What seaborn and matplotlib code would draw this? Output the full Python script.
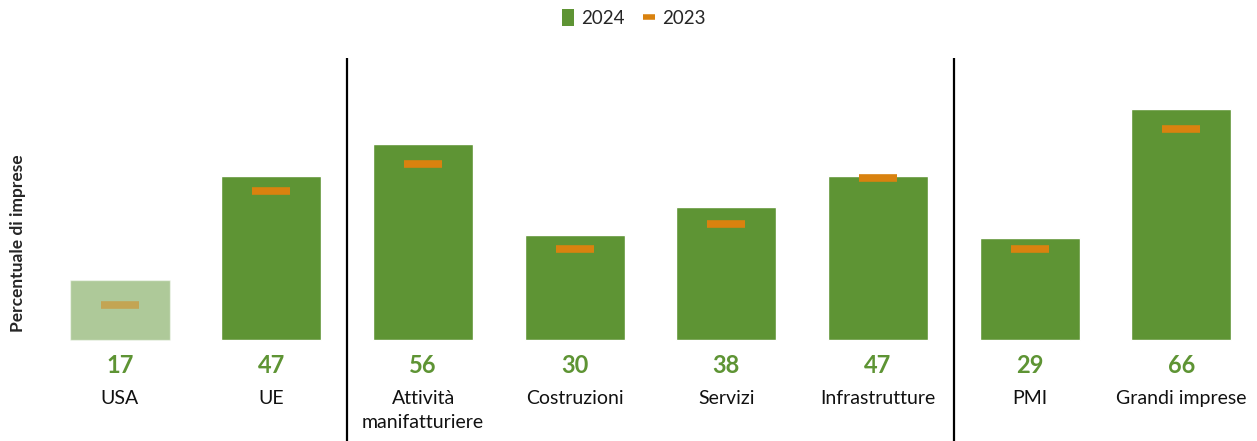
import matplotlib
matplotlib.use("Agg")
import matplotlib.pyplot as plt
import seaborn as sns
import pandas as pd
from matplotlib.patches import Patch
from matplotlib.lines import Line2D

sns.set_style("white")
plt.rcParams['font.family'] = ['Lato', 'DejaVu Sans']

# Data
categories = ["USA", "UE", "Attività\nmanifatturiere", "Costruzioni", "Servizi",
              "Infrastrutture", "PMI", "Grandi imprese"]
values_2024 = [17, 47, 56, 30, 38, 47, 29, 66]
values_2023 = [10, 42.5, 50.3, 26, 33, 46.3, 26, 60.3]

green = "#5E9434"
orange = "#D9820F"

df = pd.DataFrame({"cat": categories, "v2024": values_2024, "v2023": values_2023})

fig = plt.figure(figsize=(12.57, 4.41), dpi=100)
ax = fig.add_axes([44 / 1257, 0, 1 - 44 / 1257, (441 - 58) / 441])

sns.barplot(data=df, x="cat", y="v2024", color=green, width=0.66,
            saturation=1, ax=ax)
ax.patches[0].set_alpha(0.5)

for i, v in enumerate(values_2023):
    ax.hlines(v, i - 0.125, i + 0.125, color=orange, linewidth=5.5,
              alpha=0.5 if i == 0 else 1, zorder=3)

for i, (c, v) in enumerate(zip(categories, values_2024)):
    ax.text(i, -7.4, f"{v}", ha="center", va="center", color=green,
            fontsize=17, fontweight="bold")
    ax.text(i, -14.3, c, ha="center", va="top", fontsize=14,
            color="#111111", linespacing=1.5)

for xs in (1.5, 5.5):
    ax.axvline(xs, color="black", linewidth=1.6)

ax.set_xlim(-0.5, 7.5)
ax.set_ylim(-28.9, 80.6)
ax.set_xticks([])
ax.set_yticks([])
ax.set_xlabel("")
ax.set_ylabel("")
sns.despine(ax=ax, left=True, bottom=True)

fig.text(18 / 1257, 1 - 243 / 441, "Percentuale di imprese", rotation=90,
         ha="center", va="center", fontsize=12.5, fontweight="bold")

handles = [Patch(facecolor=green, edgecolor="none"),
           Line2D([0], [0], color=orange, linewidth=4, solid_capstyle="butt")]
fig.legend(handles, ["2024", "2023"], loc="center", bbox_to_anchor=(634 / 1257, 1 - 18 / 441),
           ncol=2, frameon=False, fontsize=13.5, handlelength=0.6, handleheight=1.0,
           handletextpad=0.4, columnspacing=1.0)

fig.savefig("out.png", dpi=100)
